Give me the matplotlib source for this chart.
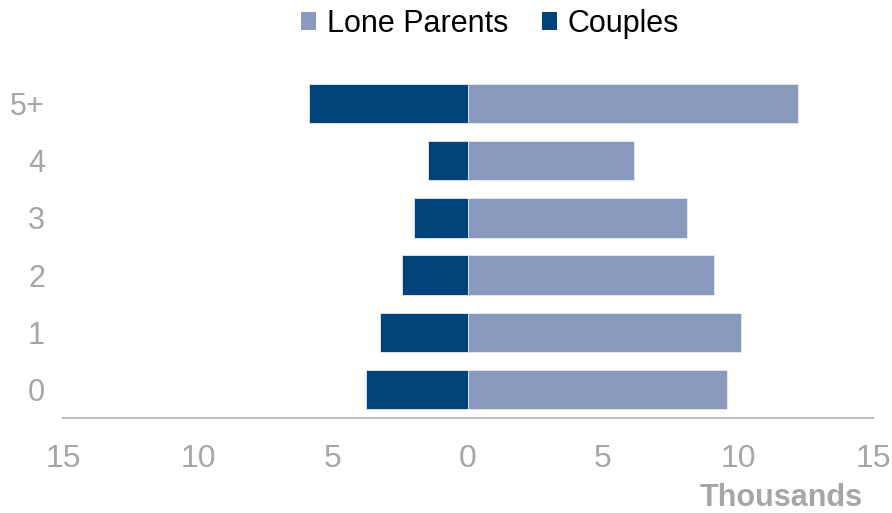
import matplotlib
matplotlib.use("Agg")
import matplotlib.pyplot as plt
from matplotlib.patches import Patch

categories = ["0", "1", "2", "3", "4", "5+"]
lone_parents = [9.60, 10.12, 9.12, 8.12, 6.14, 12.21]
couples = [3.79, 3.27, 2.46, 1.99, 1.48, 5.88]
xticks = [-15, -10, -5, 0, 5, 10, 15]
xtick_labels = ["15", "10", "5", "0", "5", "10", "15"]

c_lone = "#8A9ABE"
c_couple = "#00427A"
gray = "#A6A6A6"

plt.rcParams["font.family"] = ["Liberation Sans", "DejaVu Sans"]

fig = plt.figure(figsize=(8.92, 5.13), dpi=100)
ax = fig.add_axes([0.0706, 0.1852, 0.9081, 0.6686])

y = list(range(len(categories)))
ax.barh(y, lone_parents, height=0.69, color=c_lone, edgecolor="#E8ECF4", linewidth=0.6)
ax.barh(y, [-v for v in couples], height=0.69, color=c_couple, edgecolor="#E8ECF4", linewidth=0.6)

ax.set_xlim(-15, 15)
ax.set_ylim(-0.5, 5.5)
ax.set_xticks(xticks)
ax.set_xticklabels(xtick_labels)
ax.set_yticks(y)
ax.set_yticklabels(categories)

for s in ["top", "right", "left"]:
    ax.spines[s].set_visible(False)
ax.spines["bottom"].set_color("#BFBFBF")
ax.spines["bottom"].set_linewidth(1.5)

ax.tick_params(axis="x", length=0, pad=19, labelsize=23, labelcolor=gray)
ax.tick_params(axis="y", length=0, pad=13, labelsize=22, labelcolor=gray)

fig.text(0.9675, 0.029, "Thousands", ha="right", va="center", fontsize=22,
         fontweight="bold", color=gray)

handles = [Patch(facecolor=c_lone, label="Lone Parents"),
           Patch(facecolor=c_couple, label="Couples")]
fig.legend(handles=handles, loc="center", bbox_to_anchor=(0.549, 0.953), ncol=2,
           frameon=False, fontsize=22, handlelength=0.52, handleheight=0.52,
           handletextpad=0.33, columnspacing=1.1)

fig.savefig("out.png", dpi=100)
